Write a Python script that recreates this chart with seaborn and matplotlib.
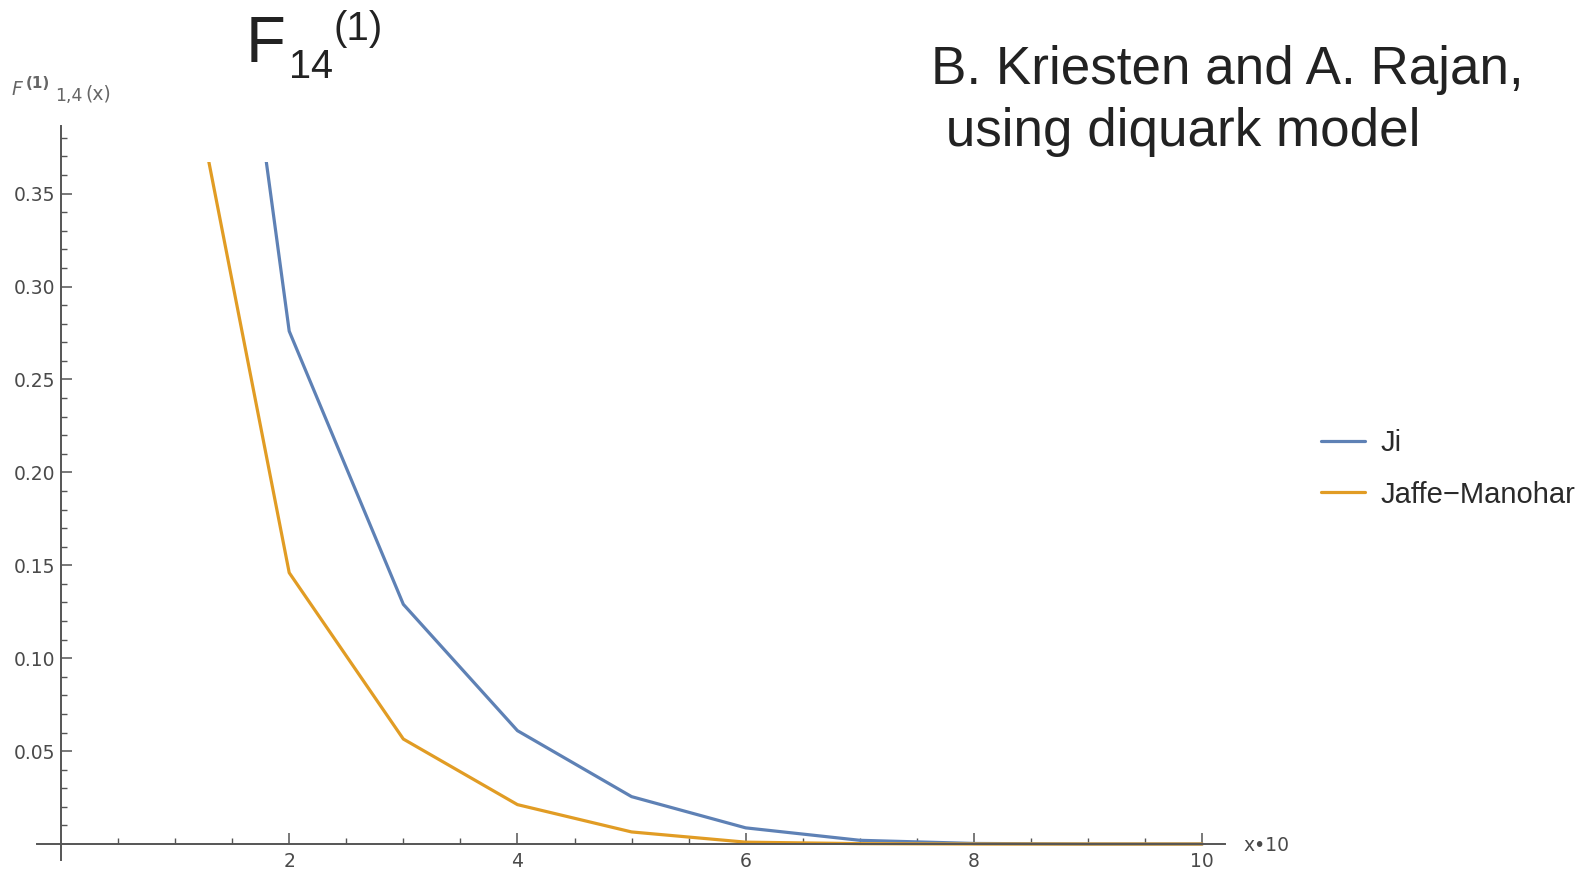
import numpy as np
import pandas as pd
import matplotlib
matplotlib.use("Agg")
import matplotlib.pyplot as plt
import seaborn as sns
from matplotlib.patches import Rectangle
from matplotlib.ticker import FixedLocator, FormatStrFormatter

# ---- data ----
x_vals = [1, 2, 3, 4, 5, 6, 7, 8, 9, 10]
ji_vals = [0.73, 0.276, 0.129, 0.061, 0.0255, 0.0087, 0.002, 0.0003, 0.0, 0.0]
jm_vals = [0.46, 0.146, 0.0565, 0.0212, 0.0065, 0.001, 0.0002, 0.0, 0.0, 0.0]
series_names = ["Ji", "Jaffe\u2212Manohar"]
x_ticks = [2, 4, 6, 8, 10]
y_ticks = [0.05, 0.10, 0.15, 0.20, 0.25, 0.30, 0.35]

df = pd.DataFrame({
    "x": x_vals * 2,
    "value": ji_vals + jm_vals,
    "model": [series_names[0]] * len(x_vals) + [series_names[1]] * len(x_vals),
})

sns.set_theme(style="white")
plt.rcParams["font.family"] = ["DejaVu Sans"]

W, H = 1583, 873
fig = plt.figure(figsize=(W / 100, H / 100), dpi=100)

# axes placement in pixels
left_px, right_px, top_px, bot_px = 37, 1225, 126, 860
ax = fig.add_axes([left_px / W, 1 - bot_px / H, (right_px - left_px) / W, (bot_px - top_px) / H])

blue = "#5E81B5"
orange = "#E19C24"
sns.lineplot(data=df, x="x", y="value", hue="model", palette=[blue, orange],
             linewidth=2.3, ax=ax, legend=True)

ax.set_xlim(-0.21, 10.2)
ax.set_ylim(-0.0086, 0.3864)

# clip curves at plot range top
clip = Rectangle((-1, -1), 20, 1 + 0.367, transform=ax.transData)
for ln in ax.lines:
    ln.set_clip_path(clip)

# spines
axis_col = "#555555"
for s in ["top", "right"]:
    ax.spines[s].set_visible(False)
ax.spines["left"].set_position(("data", 0))
ax.spines["bottom"].set_position(("data", 0))
for s in ["left", "bottom"]:
    ax.spines[s].set_color(axis_col)
    ax.spines[s].set_linewidth(1.4)

ax.xaxis.set_major_locator(FixedLocator(x_ticks))
ax.xaxis.set_minor_locator(FixedLocator([i / 2 for i in range(1, 21) if i % 4]))
ax.yaxis.set_major_locator(FixedLocator(y_ticks))
ax.yaxis.set_minor_locator(FixedLocator([i / 100 for i in range(1, 39) if i % 5]))
ax.xaxis.set_major_formatter(FormatStrFormatter("%d"))
ax.yaxis.set_major_formatter(FormatStrFormatter("%.2f"))

tick_col = "#4a4a4a"
ax.tick_params(axis="both", which="major", direction="in", length=8, width=1.1,
               color=axis_col, labelsize=13.5, labelcolor=tick_col)
ax.tick_params(axis="both", which="minor", direction="in", length=4.5, width=1.0,
               color=axis_col)
ax.tick_params(axis="y", which="major", pad=4.0, left=True)
ax.tick_params(axis="x", which="major", pad=6.0, bottom=True)
ax.tick_params(axis="y", which="minor", left=True)
ax.tick_params(axis="x", which="minor", bottom=True)
ax.set_xlabel("")
ax.set_ylabel("")

# legend
handles, labels = ax.get_legend_handles_labels()
leg = ax.legend(handles, labels, loc="center left",
                bbox_to_anchor=(1321 / W, 1 - 469 / H), bbox_transform=fig.transFigure,
                frameon=False, handlelength=1.5, handletextpad=0.55,
                labelspacing=0.8, borderpad=0, borderaxespad=0,
                prop={"family": "Liberation Sans", "size": 21})
for t in leg.get_texts():
    t.set_color("#2a2a2a")
for h in leg.get_lines():
    h.set_linewidth(2.3)

def ftext(px, py, s, **kw):
    fig.text(px / W, 1 - py / H, s, va="baseline", ha="left", **kw)

dark = "#222222"
# title F_14^(1)
ftext(246, 62, "F", fontsize=47, family="Liberation Sans", color=dark)
ftext(289, 78, "14", fontsize=28.5, family="Liberation Sans", color=dark)
ftext(333, 40, "(1)", fontsize=29, family="Liberation Sans", color=dark)

# attribution
ftext(931, 84, "B. Kriesten and A. Rajan,", fontsize=38.2, family="Liberation Sans", color=dark)
ftext(931, 146, " using diquark model", fontsize=38.2, family="Liberation Sans", color=dark)

# y axis label F^(1)_{1,4}(x), built from pieces
lab_col = "#666666"
ftext(12, 95, "F", fontsize=13.5, style="italic", color=lab_col)
ftext(26, 88, "(1)", fontsize=11, weight="bold", color=lab_col)
ftext(55, 101, "1,4", fontsize=12.5, color=lab_col)
ftext(85, 100, "(x)", fontsize=13.5, color=lab_col)

# x axis label
ftext(1243, 851, "x\u202210", fontsize=13.5, color=tick_col)

fig.savefig("out.png", dpi=100)
